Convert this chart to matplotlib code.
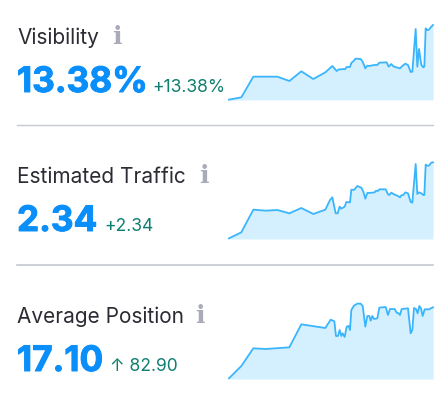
import matplotlib
matplotlib.use("Agg")
import matplotlib.pyplot as plt
import matplotlib.patheffects as pe

plt.rcParams['font.family'] = ['Inter', 'DejaVu Sans']

names = ["Visibility", "Estimated Traffic", "Average Position"]
values = ["13.38%", "2.34", "17.10"]
deltas = ["+13.38%", "+2.34", "↑ 82.90"]

vis_x = [15,52,88,160,196,232,268,304,325,338,345,352,358,363,368,378,382,390,394,410,416,424,430,436,445,452,460,466,488,494,502,508,520,528,535,544,552,560,565,575,580,585,592,598,601,605,609,615,622,627]
vis_y = [1,8,70,70,57,86,63,83,102,87,92,92,93,92,99,99,111,118,124,123,115,95,103,102,104,105,105,112,113,100,108,101,97,95,102,109,105,84,85,213,100,153,105,98,100,215,210,211,220,225]

traffic_x = [15,52,88,125,160,196,232,268,304,318,325,335,341,347,352,362,367,378,382,390,400,412,418,424,430,445,452,456,462,466,485,492,496,502,510,520,528,532,538,544,552,560,565,575,580,585,592,598,601,605,609,615,622,627]
traffic_y = [2,20,88,85,87,77,93,75,88,117,125,77,77,97,91,97,111,110,148,147,159,154,142,121,138,139,140,145,144,149,149,134,132,139,134,130,125,131,132,140,137,111,109,225,135,140,137,132,132,223,220,220,229,230]

pos_x = [15,52,88,125,196,232,304,320,331,336,342,347,352,356,362,368,374,378,382,390,400,410,416,424,430,436,440,445,450,460,466,485,492,498,512,518,524,528,533,552,560,565,570,576,581,586,591,596,602,615,627]
pos_y = [2,39,92,90,95,164,153,178,173,129,129,147,129,137,126,157,159,147,207,220,226,226,219,157,189,189,175,189,180,182,214,216,192,210,210,199,197,192,210,212,137,147,213,210,197,219,212,189,209,209,215]

series_x = [vis_x, traffic_x, pos_x]
series_y = [vis_y, traffic_y, pos_y]

W, H = 448, 394
fig = plt.figure(figsize=(W / 100, H / 100), dpi=100, facecolor="white")

# pixel space overlay for the text and the rules
bg = fig.add_axes([0, 0, 1, 1])
bg.set_xlim(0, W)
bg.set_ylim(H, 0)
bg.axis("off")

name_y = [44, 183, 323]
value_y = [92, 231, 371]
delta_x = [152, 104, 110]
icon_x = [117, 204, 200]
icon_y = [44, 183, 323]
bottoms = [100, 239, 379]

blue = "#0a8ffa"
green = "#0f7f70"
for i in range(3):
    bg.text(17, name_y[i], names[i], fontsize=15, color="#2b2b33", va="baseline", ha="left")
    # the heavy weight is thickened with a stroke of the same colour
    bg.text(17, value_y[i], values[i], fontsize=25.3, fontweight="bold", color=blue, va="baseline", ha="left",
            path_effects=[pe.withStroke(linewidth=0.7, foreground=blue)])
    bg.text(delta_x[i], value_y[i], deltas[i], fontsize=12.6, color=green, va="baseline", ha="left")
    bg.text(icon_x[i], icon_y[i], "i", fontsize=18, fontweight="bold", color="#a9abb9",
            family="DejaVu Serif", va="baseline", ha="center")

bg.plot([17, 433], [124.5, 124.5], color="#c6c8d2", lw=1)
bg.plot([17, 433], [264.5, 264.5], color="#c6c8d2", lw=1.2)

for i in range(3):
    # sparkline box: 204 px wide, 3 zoom units = 1 px
    ax = fig.add_axes([229 / W, (H - bottoms[i]) / H, 204 / W, 80 / H])
    ax.set_xlim(15, 627)
    ax.set_ylim(0, 240)
    ax.axis("off")
    ax.fill_between(series_x[i], series_y[i], 0, color="#d4f0ff", lw=0)
    ax.plot(series_x[i], series_y[i], color="#3ab5fc", lw=1.3, clip_on=False)

fig.savefig("out.png", dpi=100)
